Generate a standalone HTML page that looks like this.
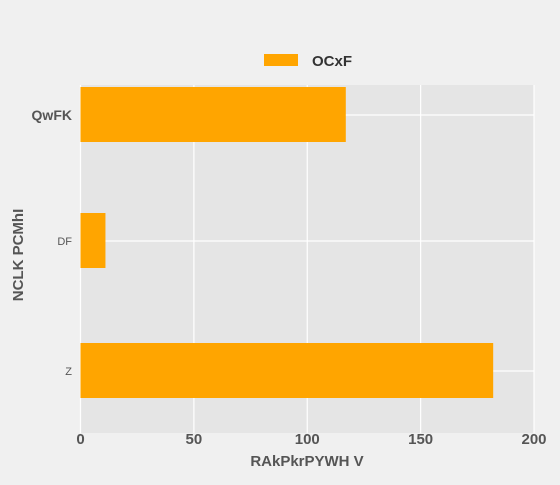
<!DOCTYPE html>
<html><head><meta charset="utf-8"><style>
body{margin:0;background:#f0f0f0;}
text{font-family:"Liberation Sans",sans-serif;}
</style></head><body>
<svg width="560" height="480">
<rect x="0" y="0" width="560" height="480" fill="#f0f0f0"/>
<rect x="80.5" y="85" width="453.5" height="348" fill="#e5e5e5"/>
<g id="grid"></g>
<g id="bars"></g>
<g id="ylabels"></g>
<g id="xlabels"></g>
<rect x="264" y="54" width="34" height="12" fill="#ffa500"/>
<text x="312" y="66" font-size="15" font-weight="bold" fill="#333">OCxF</text>
<text x="307" y="466" font-size="15" font-weight="bold" fill="#555" text-anchor="middle">RAkPkrPYWH  V</text>
<text transform="translate(23,255) rotate(-90)" font-size="15" font-weight="bold" fill="#555" text-anchor="middle">NCLK PCMhI</text>
</svg>
<script>
const categories=["QwFK","DF","Z"];
const values=[117,11,182];
const xTicks=[0,50,100,150,200];
const ns="http://www.w3.org/2000/svg";
const x0=80.5,x1=534,plotTop=85,plotBottom=433;
const xs=v=>x0+(v/200)*(x1-x0);
const centers=[115,241,371];
const ys=i=>centers[i];
function mk(t,a,p){const e=document.createElementNS(ns,t);for(const k in a)e.setAttribute(k,a[k]);document.getElementById(p).appendChild(e);return e;}
xTicks.forEach(t=>{
 const l=mk('line',{x1:xs(t),x2:xs(t),y1:plotTop,y2:plotBottom,stroke:'#fff','stroke-width':1.2},'grid');
 
 
 const tx=mk('text',{x:xs(t),y:444,'font-size':15,'font-weight':'bold',fill:'#555','text-anchor':'middle'},'xlabels');
 tx.textContent=t;
 
 
});
categories.forEach((c,i)=>{
 const g=mk('line',{x1:x0,x2:x1,y1:ys(i),y2:ys(i),stroke:'#fff','stroke-width':1.2},'grid');
 
 
 const r=mk('rect',{x:x0,y:ys(i)-28,width:xs(values[i])-x0,height:55,fill:'#ffa500'},'bars');
 
 
 const big=i===0;
 const t=mk('text',{x:72,y:ys(i)+(big?5:4),'font-size':big?14:11,'font-weight':big?'bold':'normal',fill:'#555','text-anchor':'end'},'ylabels');
 t.textContent=c;
 
 
});
</script>
</body></html>
